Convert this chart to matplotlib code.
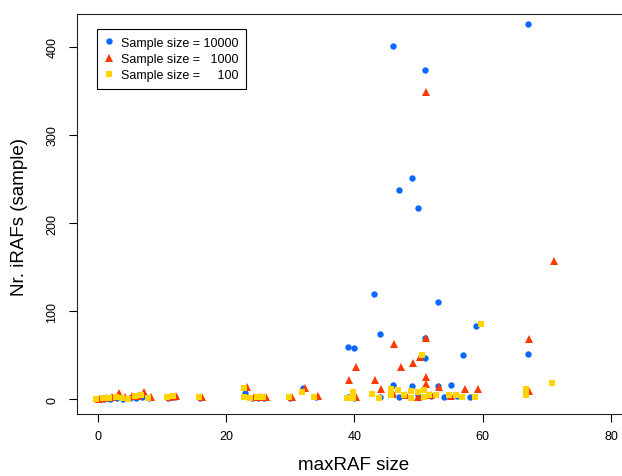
import matplotlib
matplotlib.use('Agg')
import matplotlib.pyplot as plt

plt.rcParams['font.family'] = ['Liberation Sans', 'DejaVu Sans']

# sample size 10000 (blue circles)
x_10000 = [0, 1, 2, 3, 4, 5, 6, 7, 8, 11, 12, 16, 23, 24, 25, 26, 30, 32, 34,
           39, 40, 43, 44, 46, 47, 49, 50, 51, 53, 59, 46, 49, 53, 55, 57, 51,
           51, 67, 67, 50, 52, 54, 56, 58, 44, 47, 40, 39]
y_10000 = [0, 1, 1, 2, 1, 2, 2, 3, 2, 2, 3, 2, 7, 2, 2, 2, 2, 13, 3,
           60, 58, 119, 74, 401, 237, 251, 217, 374, 110, 83, 16, 15, 15, 16, 50, 70,
           47, 426, 51, 5, 4, 3, 4, 3, 3, 3, 2, 3]

# sample size 1000 (red triangles)
x_1000 = [0.3, 1.3, 2.3, 3.3, 4.3, 5.3, 6.3, 7.3, 8.3, 11.3, 12.3, 16.3, 23.3, 24.3,
          25.3, 26.3, 30.3, 32.3, 34.3, 39.2, 40.2, 40.2, 43.2, 44.1, 46.2, 47.2,
          49.2, 50.2, 51.2, 51.2, 51.2, 51.2, 53.2, 57.2, 59.2, 67.2, 67.2, 71.1,
          46.0, 48.0, 50.0, 52.0, 55.0, 45.9]
y_1000 = [1, 2, 3, 7, 3, 4, 4, 8, 3, 3, 4, 3, 14, 3,
          3, 3, 3, 13, 4, 22, 37, 3, 22, 12, 63, 37,
          41, 48, 349, 70, 26, 17, 14, 12, 12, 68, 10, 157,
          7, 5, 3, 5, 4, 6]

# sample size 100 (yellow squares)
x_100 = [-0.2, 0.8, 1.8, 2.8, 3.8, 4.8, 5.8, 6.8, 7.8, 10.8, 11.8, 15.8, 22.8, 22.8,
         23.8, 24.8, 25.8, 29.8, 31.9, 33.8, 38.8, 39.8, 39.8, 42.8, 43.8, 45.7,
         45.7, 46.8, 47.8, 48.8, 48.8, 49.9, 50.6, 50.8, 50.8, 51.7, 52.7, 54.7,
         55.8, 56.8, 58.8, 59.7, 66.8, 66.8, 70.8]
y_100 = [0, 2, 2, 3, 2, 1, 4, 5, 2, 3, 4, 3, 13, 3,
         2, 3, 3, 3, 8, 3, 2, 8, 2, 6, 2, 12,
         5, 11, 5, 10, 2, 8, 50, 11, 3, 5, 5, 5,
         5, 3, 3, 85, 12, 5, 19]

x_ticks = [0, 20, 40, 60, 80]
y_ticks = [0, 100, 200, 300, 400]

fig = plt.figure(figsize=(6.22, 4.77), dpi=100)
ax = fig.add_axes([0.1238, 0.130, 0.8916, 0.8386])

ax.plot(x_10000, y_10000, 'o', color='#0a68ff', markersize=4.6, markeredgewidth=0,
        label='Sample size = 10000')
ax.plot(x_1000, y_1000, '^', color='#ff3a00', markersize=5.6, markeredgewidth=0,
        label='Sample size =   1000')
ax.plot(x_100, y_100, 's', color='#ffd400', markersize=5.0, markeredgewidth=0,
        label='Sample size =     100')

ax.set_xlim(-3.2, 83.2)
ax.set_ylim(-16.5, 437)
ax.set_xticks(x_ticks)
ax.set_yticks(y_ticks)
ax.tick_params(axis='both', direction='out', length=5.8, width=0.8, labelsize=9)
ax.tick_params(axis='x', pad=5.5)
ax.tick_params(axis='y', pad=7.5)
for lab in ax.get_yticklabels():
    lab.set_rotation(90)
    lab.set_va('center')

for sp in ax.spines.values():
    sp.set_linewidth(0.8)
    sp.set_color('#222222')

ax.set_xlabel('maxRAF size', fontsize=13.5)
ax.set_ylabel('Nr. iRAFs (sample)', fontsize=13.5)
ax.xaxis.set_label_coords(354 / 622, 1 - 466 / 477, transform=fig.transFigure)
ax.xaxis.label.set_va('center')
ax.yaxis.set_label_coords(20 / 622, 1 - 217 / 477, transform=fig.transFigure)
ax.yaxis.label.set_va('center')

# legend box in the top left corner, as in the original
leg = ax.legend(loc='upper left', bbox_to_anchor=(97 / 622, 1 - 30 / 477),
                bbox_transform=fig.transFigure, borderaxespad=0, fontsize=9,
                fancybox=False, framealpha=1, edgecolor='black',
                handlelength=0.7, handletextpad=0.65, labelspacing=0.35,
                borderpad=0.6)
leg.get_frame().set_linewidth(0.8)

fig.savefig('out.png', dpi=100)
